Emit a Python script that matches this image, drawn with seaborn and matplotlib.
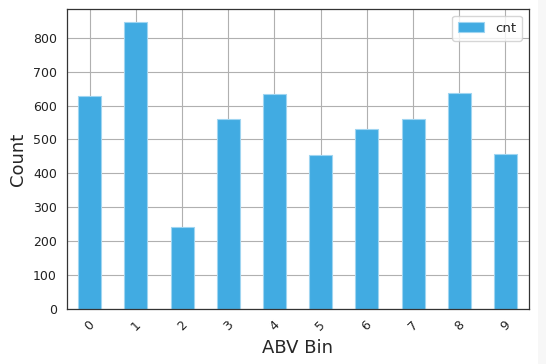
import matplotlib
matplotlib.use("Agg")
import matplotlib.pyplot as plt
from matplotlib.patches import Rectangle
import seaborn as sns
import pandas as pd

bins = ["0", "1", "2", "3", "4", "5", "6", "7", "8", "9"]
cnt = [629, 846, 242, 560, 633, 453, 532, 560, 637, 458]

df = pd.DataFrame({"ABV Bin": bins, "cnt": cnt})

sns.set_style("white")
plt.rcParams["font.family"] = ["DejaVu Sans"]

fig = plt.figure(figsize=(5.46, 3.64), dpi=100)
fig.patches.append(Rectangle((538 / 546, 0), 8 / 546, 1, transform=fig.transFigure,
                             facecolor="#f7f7f7", edgecolor="none", zorder=0))
ax = fig.add_axes([0.122, 0.152, 0.846, 0.823])
color = "#41abe2"
sns.barplot(data=df, x="ABV Bin", y="cnt", color=color, saturation=1, width=0.5,
            edgecolor="#9fd5f1", linewidth=0.8, ax=ax, label="cnt", zorder=2)
ax.set_axisbelow(True)
ax.grid(True, color="#b0b0b0", linewidth=0.8)
ax.set_xlim(-0.5, 9.5)
ax.set_ylim(0, 885)
ax.set_yticks(range(0, 900, 100))
ax.tick_params(axis="both", labelsize=9, length=3.5, width=0.8, colors="#333333", labelcolor="#222222")
ax.tick_params(axis="x", labelrotation=45)
for s in ax.spines.values():
    s.set_color("#333333")
    s.set_linewidth(0.9)
ax.set_xlabel("ABV Bin", fontsize=13)
ax.set_ylabel("Count", fontsize=13)
leg = ax.legend(loc="upper right", fontsize=9.5, frameon=True, handlelength=2, borderpad=0.45)
leg.get_frame().set_edgecolor("#cccccc")
fig.savefig("out.png", dpi=100, facecolor="white")
